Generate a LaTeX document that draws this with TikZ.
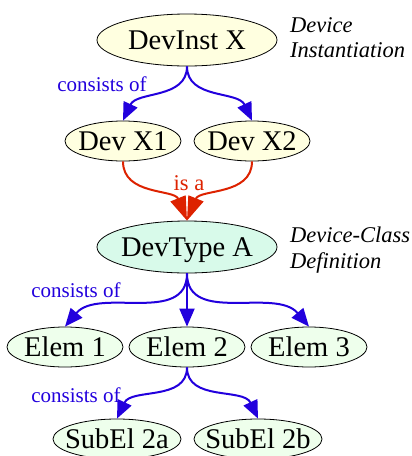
\documentclass[tikz,border=0pt]{standalone}
\usepackage{fontspec}
\setmainfont{Liberation Serif}
\usetikzlibrary{shapes.geometric,arrows.meta}
\definecolor{cyel}{HTML}{FFFFE0}
\definecolor{ccls}{HTML}{D8FAEA}
\definecolor{celm}{HTML}{EEFFEC}
\definecolor{cblue}{HTML}{2200DD}
\definecolor{cred}{HTML}{DD2200}
\newcommand{\nbox}[1]{\makebox[0pt]{#1}}
\tikzset{
  nd/.style={ellipse,draw=black,line width=0.8pt,inner sep=0pt,
    text height=19.5pt,text depth=0pt,
    font=\fontsize{28.5}{32}\selectfont},
  big/.style={nd,minimum width=180pt,minimum height=52pt},
  small/.style={nd,minimum width=116pt,minimum height=40pt},
  sub/.style={nd,minimum width=128pt,minimum height=40pt},
  bl/.style={draw=cblue,line width=2pt,-{Triangle[length=18pt,width=15pt]}},
  rd/.style={draw=cred,line width=2pt,-{Triangle[length=24pt,width=16pt]}},
  lbl/.style={font=\fontsize{21}{24}\selectfont,inner sep=0pt,anchor=base},
  cmt/.style={font=\fontsize{22.5}{25}\selectfont\itshape,inner sep=0pt,anchor=base west},
}
\begin{document}
\begin{tikzpicture}[x=1pt,y=-1pt]
\useasboundingbox (0,0) rectangle (412,456);
\node[big,fill=cyel] (inst) at (187,40) {\nbox{DevInst X}};
\node[small,fill=cyel] (x1) at (123,141) {\nbox{Dev X1}};
\node[small,fill=cyel] (x2) at (252,141) {\nbox{Dev X2}};
\node[big,fill=ccls] (cls) at (187,247) {\nbox{DevType A}};
\node[small,fill=celm] (e1) at (65,347) {\nbox{Elem 1}};
\node[small,fill=celm] (e2) at (187,347) {\nbox{Elem 2}};
\node[small,fill=celm] (e3) at (309,347) {\nbox{Elem 3}};
\node[sub,fill=celm] (s1) at (117,439) {\nbox{SubEl 2a}};
\node[sub,fill=celm] (s2) at (258,439) {\nbox{SubEl 2b}};

\draw[bl] (inst.south) to[out=-90,in=65] (x1.north);
\draw[bl] (inst.south) to[out=-90,in=115] (x2.north);
\draw[rd] (x1.south) to[out=-90,in=112] (cls.north);
\draw[rd] (x2.south) to[out=-90,in=68] (cls.north);
\draw[bl] (cls.south) to[out=-90,in=50] (e1.north);
\draw[bl] (cls.south) -- (e2.north);
\draw[bl] (cls.south) to[out=-90,in=130] (e3.north);
\draw[bl] (e2.south) to[out=-90,in=65] (s1.north);
\draw[bl] (e2.south) to[out=-90,in=115] (s2.north);

\node[lbl,text=cblue] (l1) at (102,91) {consists of};
\node[lbl,text=cred,font=\fontsize{22.5}{25}\selectfont] (l2) at (189,190) {is a};
\node[lbl,text=cblue] (l3) at (76,297) {consists of};
\node[lbl,text=cblue] (l4) at (76,402) {consists of};

\node[cmt] (c1) at (290,32) {Device};
\node[cmt] (c2) at (290,57) {Instantiation};
\node[cmt] (c3) at (290,242) {Device-Class};
\node[cmt] (c4) at (290,268) {Definition};
\end{tikzpicture}
\end{document}
